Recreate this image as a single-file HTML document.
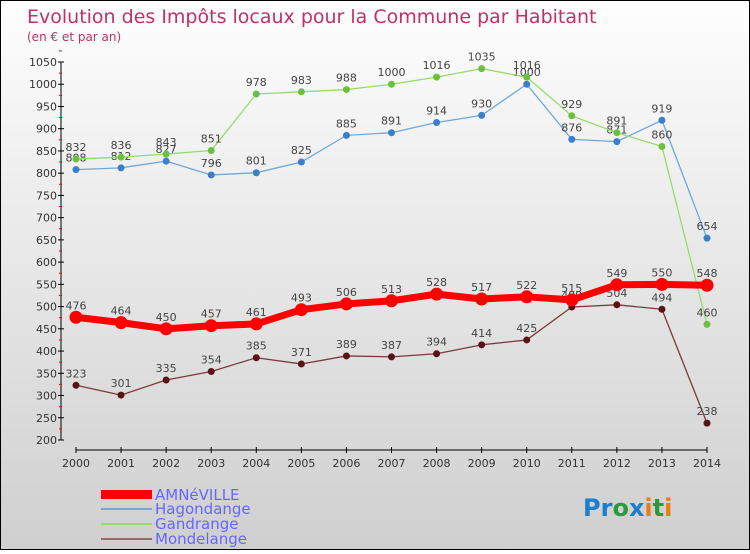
<!DOCTYPE html>
<html><head><meta charset="utf-8"><style>
body{margin:0;width:750px;height:550px;overflow:hidden}
#c{position:relative;width:748px;height:548px;border:1px solid #000;background:linear-gradient(#fefefe,#cfcfcf)}
text{font-family:"DejaVu Sans","Liberation Sans",sans-serif}
</style></head><body>
<div id="c">
<svg id="s" width="748" height="548" xmlns="http://www.w3.org/2000/svg">
<text x="26" y="22" font-size="19" fill="#c0306a" font-family="Liberation Sans">Evolution des Impôts locaux pour la Commune par Habitant</text>
<text x="26" y="40" font-size="12" fill="#c0306a">(en € et par an)</text>
<g id="axes"></g><g id="series"></g>
<g>
<rect x="100" y="489" width="51" height="9" fill="#f00"/>
<text x="154" y="499" font-size="15" fill="#6666ff">AMNéVILLE</text>
<rect x="100" y="507" width="51" height="2" fill="#7aa9d0"/>
<text x="154" y="513" font-size="15" fill="#6666ff">Hagondange</text>
<rect x="100" y="522" width="51" height="2" fill="#9ad870"/>
<text x="154" y="528" font-size="15" fill="#6666ff">Gandrange</text>
<rect x="100" y="537" width="51" height="2" fill="#9a6a6a"/>
<text x="154" y="543" font-size="15" fill="#6666ff">Mondelange</text>
</g>
<text x="582" y="515" font-size="24" font-weight="bold"><tspan fill="#1a7fd0">Pr</tspan><tspan fill="#2a9a3a">o</tspan><tspan fill="#1a7fd0">x</tspan><tspan fill="#f07a10">i</tspan><tspan fill="#2a9a3a">t</tspan><tspan fill="#f07a10">i</tspan></text>
</svg></div>
<script>
const years=["2000","2001","2002","2003","2004","2005","2006","2007","2008","2009","2010","2011","2012","2013","2014"];
const yTicks=[200,250,300,350,400,450,500,550,600,650,700,750,800,850,900,950,1000,1050];
const amneville=[476,464,450,457,461,493,506,513,528,517,522,515,549,550,548];
const hagondange=[808,812,827,796,801,825,885,891,914,930,1000,876,871,919,654];
const gandrange=[832,836,843,851,978,983,988,1000,1016,1035,1016,929,891,860,460];
const mondelange=[323,301,335,354,385,371,389,387,394,414,425,499,504,494,238];
const NS="http://www.w3.org/2000/svg";
const X=i=>75+i*(631/14);
const Y=v=>439-(v-200)*(378/850);
function mk(t,a,p){const e=document.createElementNS(NS,t);for(const k in a)e.setAttribute(k,a[k]);p.appendChild(e);return e;}
const ax=document.getElementById('axes');
let l=mk('line',{x1:60,y1:Y(1050),x2:60,y2:Y(200),stroke:'#000'},ax);


yTicks.forEach(v=>{mk('line',{x1:57,x2:63,y1:Y(v),y2:Y(v),stroke:'#000'},ax);
mk('line',{x1:58,x2:61,y1:Y(v+25),y2:Y(v+25),stroke:'#f00'},ax);
const t=mk('text',{x:56,y:Y(v)+4,'font-size':11,'text-anchor':'end',fill:'#333'},ax);t.textContent=v;

});
l=mk('line',{x1:75,y1:449,x2:706,y2:449,stroke:'#000'},ax);


years.forEach((y,i)=>{mk('line',{x1:X(i),x2:X(i),y1:446,y2:452,stroke:'#000'},ax);
const t=mk('text',{x:X(i),y:466,'font-size':11,'text-anchor':'middle',fill:'#333'},ax);t.textContent=y;

});
const sg=document.getElementById('series');
function series(name,d,lc,mc,w,r){const g=mk('g',{},sg);


mk('polyline',{points:d.map((v,i)=>X(i)+','+Y(v)).join(' '),fill:'none',stroke:lc,'stroke-width':w,'stroke-linejoin':'round'},g);
d.forEach((v,i)=>{const c=mk('circle',{cx:X(i),cy:Y(v),r:r,fill:mc},g);


const t=mk('text',{x:X(i),y:Y(v)-8,'font-size':11,'text-anchor':'middle',fill:'#444'},g);t.textContent=v;

});}
series('mondelange',mondelange,'#7a3a3a','#5a1218',1.3,3.5);
series('hagondange',hagondange,'#6fa8dc','#3a80c8',1.3,3.5);
series('gandrange',gandrange,'#96dc6a','#6cc040',1.3,3.5);
series('amneville',amneville,'#f00','#f00',7,6.5);
</script></body></html>
